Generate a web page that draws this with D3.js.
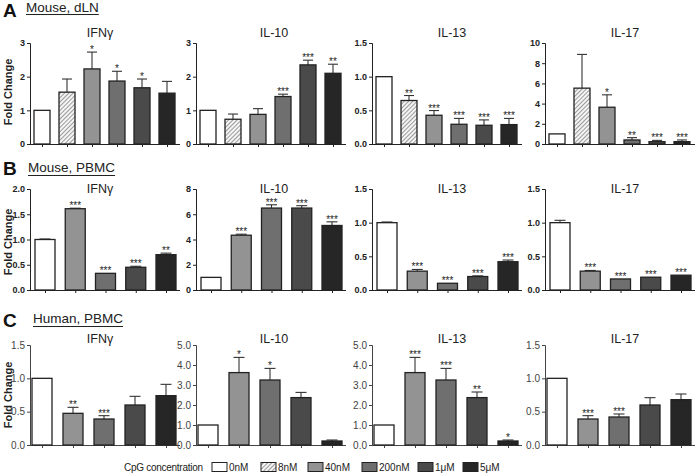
<!DOCTYPE html>
<html><head><meta charset="utf-8">
<script src="https://cdn.jsdelivr.net/npm/d3@7"></script>
<style>body{margin:0;background:#fff}svg{display:block;font-family:"Liberation Sans",Arial,sans-serif}</style>
</head><body><svg id="c" width="696" height="474"></svg>
<script>
// ---- data ----
const concentrations = ["0nM","8nM","40nM","200nM","1μM","5μM"];
const concentrationsB = ["0nM","40nM","200nM","1μM","5μM"];
const cytokines = ["IFNγ","IL-10","IL-13","IL-17"];
const rowLetters = ["A","B","C"];
const rowTitles = ["Mouse, dLN","Mouse, PBMC","Human, PBMC"];

// Row A (6 concentrations)
const aMeans = [[1.0,1.54,2.23,1.87,1.67,1.51],[1.0,0.735,0.88,1.41,2.35,2.10],[1.0,0.646,0.427,0.293,0.278,0.288],[1.0,5.53,3.64,0.40,0.23,0.23]];
const aSem = [[0,0.39,0.50,0.29,0.26,0.35],[0,0.155,0.17,0.07,0.14,0.27],[0,0.074,0.07,0.087,0.08,0.092],[0,3.34,1.23,0.23,0.13,0.17]];
const aStars = [["","","*","*","*",""],["","","","***","***","**"],["","**","***","***","***","***"],["","","*","**","***","***"]];
const aMax = [3,3,1.5,10];
const aTicks = [[0,1,2,3],[0,1,2,3],[0,0.5,1,1.5],[0,2,4,6,8,10]];
const aFmt = ["d","d",".1f","d"];

// Row B (5 concentrations)
const bMeans = [[1.0,1.61,0.33,0.45,0.70],[1.0,4.34,6.49,6.49,5.11],[1.0,0.28,0.10,0.20,0.42],[1.0,0.28,0.164,0.19,0.22]];
const bSem = [[0.01,0.01,0,0.02,0.03],[0,0.08,0.26,0.19,0.29],[0.01,0.025,0,0.01,0.025],[0.035,0.01,0,0,0]];
const bStars = [["","***","***","***","**"],["","***","***","***","***"],["","***","***","***","***"],["","***","***","***","***"]];
const bMax = [2,8,1.5,1.5];
const bTicks = [[0,0.5,1,1.5,2],[0,2,4,6,8],[0,0.5,1,1.5],[0,0.5,1,1.5]];
const bFmt = [".1f","d",".1f",".1f"];

// Row C (5 concentrations)
const cMeans = [[1.0,0.475,0.39,0.60,0.74],[1.0,3.62,3.25,2.37,0.20],[1.0,3.62,3.25,2.37,0.20],[1.0,0.39,0.42,0.60,0.68]];
const cSem = [[0,0.09,0.05,0.13,0.17],[0,0.76,0.58,0.26,0.05],[0,0.76,0.58,0.28,0.05],[0,0.05,0.045,0.11,0.085]];
const cStars = [["","**","***","",""],["","*","*","",""],["","***","***","**","*"],["","***","***","",""]];
const cMax = [1.5,5,5,1.5];
const cTicks = [[0,0.5,1,1.5],[0,1,2,3,4,5],[0,1,2,3,4,5],[0,0.5,1,1.5]];
const cFmt = [".1f",".1f",".1f",".1f"];

// ---- styles ----
const fills = {"0nM":"#ffffff","8nM":"url(#hatch)","40nM":"#939393","200nM":"#6f6f6f","1μM":"#4a4a4a","5μM":"#262626"};
const axisX = [30,196,372,545];
const axisLen = 150;
const titleX = [100,274,452,625];

const svg = d3.select("#c");
const defs = svg.append("defs");
const pat = defs.append("pattern").attr("id","hatch").attr("patternUnits","userSpaceOnUse")
  .attr("width",3).attr("height",3).attr("patternTransform","rotate(45)");
pat.append("rect").attr("width",3).attr("height",3).attr("fill","#f4f4f4");
pat.append("line").attr("x1",0).attr("y1",0).attr("x2",0).attr("y2",3).attr("stroke","#6a6a6a").attr("stroke-width",1.3);

const rows = [
  {cats:concentrations, means:aMeans, sem:aSem, stars:aStars, max:aMax, ticks:aTicks, fmt:aFmt,
   top:43, base:144, off:[12,137], bw:16, cap:5, titleY:37, bold:true, axisCol:"#222",
   letterY:17, textY:12, ulY:14, textX:26, foldY:92},
  {cats:concentrationsB, means:bMeans, sem:bSem, stars:bStars, max:bMax, ticks:bTicks, fmt:bFmt,
   top:189, base:290, off:[15,136], bw:20, cap:5.5, titleY:193, bold:true, axisCol:"#222",
   letterY:175, textY:172, ulY:175, textX:28, foldY:242},
  {cats:concentrationsB, means:cMeans, sem:cSem, stars:cStars, max:cMax, ticks:cTicks, fmt:cFmt,
   top:345, base:445, off:[12,136], bw:20, cap:5.5, titleY:343, bold:false, axisCol:"#444",
   letterY:327, textY:323, ulY:326, textX:33, foldY:395}
];

rows.forEach((r,ri)=>{
  // panel letter and title
  svg.append("text").attr("x",3).attr("y",r.letterY).attr("font-size",19).attr("font-weight","bold")
    .attr("fill","#111").text(rowLetters[ri]);
  const t = svg.append("text").attr("x",r.textX).attr("y",r.textY).attr("font-size",13.5).attr("fill","#222")
    .text(rowTitles[ri]);
  const tw = t.node().getComputedTextLength();
  svg.append("line").attr("x1",r.textX).attr("x2",r.textX+tw).attr("y1",r.ulY+0.5).attr("y2",r.ulY+0.5)
    .attr("stroke","#222").attr("stroke-width",1);
  // Fold Change
  svg.append("text").attr("transform",`translate(12,${r.foldY}) rotate(-90)`).attr("text-anchor","middle")
    .attr("font-size",11).attr("font-weight","bold").attr("fill","#222").text("Fold Change");

  cytokines.forEach((cy,pi)=>{
    const ax = axisX[pi];
    const x = d3.scalePoint().domain(r.cats).range([ax+r.off[0], ax+r.off[1]]);
    const y = d3.scaleLinear().domain([0,r.max[pi]]).range([r.base, r.top]);
    const g = svg.append("g");
    // title
    g.append("text").attr("x",titleX[pi]).attr("y",r.titleY).attr("text-anchor","middle")
      .attr("font-size",12.5).attr("fill","#222").text(cy);
    // y axis
    const yAxis = d3.axisLeft(y).tickValues(r.ticks[pi]).tickFormat(d3.format(r.fmt[pi])).tickSize(3).tickPadding(2);
    const ya = g.append("g").attr("transform",`translate(${ax},0)`).call(yAxis);
    ya.selectAll("path,line").attr("stroke",r.axisCol).attr("stroke-width",1);
    ya.selectAll("text").attr("font-size",r.bold?9:10).attr("font-weight",r.bold?"bold":"normal")
      .attr("fill",r.bold?"#222":"#444").attr("font-family","'Liberation Sans',Arial,sans-serif");
    // x axis
    const xAxis = d3.axisBottom(x).tickSize(3).tickFormat("");
    const xa = g.append("g").attr("transform",`translate(0,${r.base})`).call(xAxis);
    xa.select(".domain").attr("d",`M${ax},0.5H${ax+axisLen}`);
    xa.selectAll("path,line").attr("stroke",r.axisCol).attr("stroke-width",1);

    const data = r.cats.map((c,i)=>({c, m:r.means[pi][i], s:r.sem[pi][i], st:r.stars[pi][i]}));
    // error bars
    data.forEach(d=>{
      if(d.s>0){
        const cx = x(d.c);
        g.append("line").attr("x1",cx).attr("x2",cx).attr("y1",y(d.m)).attr("y2",y(d.m+d.s))
          .attr("stroke","#333").attr("stroke-width",1.1);
        g.append("line").attr("x1",cx-r.cap).attr("x2",cx+r.cap).attr("y1",y(d.m+d.s)).attr("y2",y(d.m+d.s))
          .attr("stroke","#333").attr("stroke-width",1.1);
      }
    });
    // bars
    g.selectAll("rect.bar").data(data).join("rect").attr("class","bar")
      .attr("x",d=>x(d.c)-r.bw/2).attr("width",r.bw)
      .attr("y",d=>y(d.m)).attr("height",d=>r.base-y(d.m))
      .attr("fill",d=>fills[d.c]).attr("stroke","#222").attr("stroke-width",1.3);
    // stars
    g.selectAll("text.star").data(data.filter(d=>d.st)).join("text").attr("class","star")
      .attr("x",d=>x(d.c)).attr("y",d=>y(d.m+d.s)+1).attr("text-anchor","middle")
      .attr("font-size",10).attr("fill","#222").text(d=>d.st);
  });
});

// legend
const legX = [212,261,308,362,418,463];
svg.append("text").attr("x",124).attr("y",471).attr("font-size",10).attr("fill","#222")
  .attr("textLength",79).attr("lengthAdjust","spacing").text("CpG concentration");
concentrations.forEach((c,i)=>{
  svg.append("rect").attr("x",legX[i]).attr("y",462.5).attr("width",15).attr("height",9)
    .attr("fill",fills[c]).attr("stroke","#222").attr("stroke-width",1);
  svg.append("text").attr("x",legX[i]+17).attr("y",471).attr("font-size",10).attr("fill","#222").text(c);
});
</script></body></html>
